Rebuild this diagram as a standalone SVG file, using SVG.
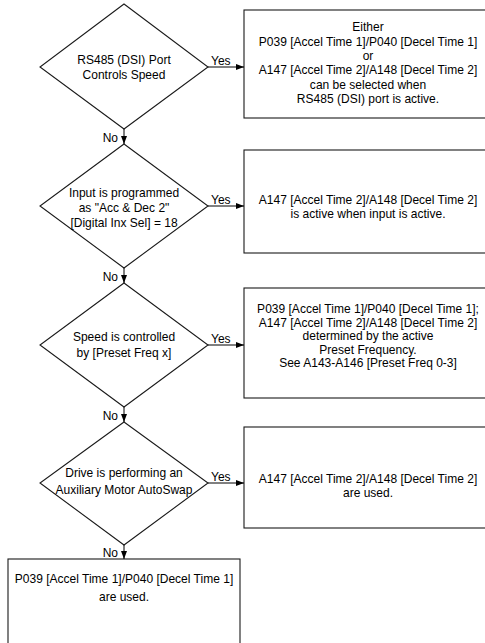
<svg xmlns="http://www.w3.org/2000/svg" width="485" height="643" viewBox="0 0 485 643">
<defs>
<marker id="ah" viewBox="0 0 8 6" refX="8" refY="3" markerWidth="8" markerHeight="6" markerUnits="userSpaceOnUse" orient="auto">
<path d="M0,0 L8,3 L0,6 z" fill="#000"/>
</marker>
<style>
.shape{fill:#fff;stroke:#1a1a1a;stroke-width:1.1}
.t{font-family:"Liberation Sans",Arial,sans-serif;font-size:13px;fill:#000;text-anchor:middle}
.lbl{font-family:"Liberation Sans",Arial,sans-serif;font-size:13px;fill:#000}
.c{fill:none;stroke:#000;stroke-width:1;marker-end:url(#ah)}
</style>
</defs>
<rect width="485" height="643" fill="#fff"/>

<g id="d1">
<polygon class="shape" points="124,4 208,67 124,129 40,67"/>
<g transform="translate(124,0) scale(0.925,1)">
<text class="t" x="0" y="64">RS485 (DSI) Port</text>
<text class="t" x="0" y="79">Controls Speed</text>
</g>
</g>
<g id="b1">
<rect class="shape" x="244" y="10" width="250" height="108"/>
<g transform="translate(368,0) scale(0.925,1)">
<text class="t" x="0" y="31.5">Either</text>
<text class="t" x="0" y="45.8">P039 [Accel Time 1]/P040 [Decel Time 1]</text>
<text class="t" x="0" y="60">or</text>
<text class="t" x="0" y="74.3">A147 [Accel Time 2]/A148 [Decel Time 2]</text>
<text class="t" x="0" y="88.6">can be selected when</text>
<text class="t" x="0" y="103">RS485 (DSI) port is active.</text>
</g>
</g>

<g id="d2">
<polygon class="shape" points="124,144 208,206 124,268 40,206"/>
<g transform="translate(124,0) scale(0.925,1)">
<text class="t" x="0" y="197">Input is programmed</text>
<text class="t" x="0" y="212">as "Acc &amp; Dec 2"</text>
<text class="t" x="0" y="227.5">[Digital Inx Sel] = 18</text>
</g>
</g>
<g id="b2">
<rect class="shape" x="244" y="150" width="250" height="103"/>
<g transform="translate(368,0) scale(0.925,1)">
<text class="t" x="0" y="204">A147 [Accel Time 2]/A148 [Decel Time 2]</text>
<text class="t" x="0" y="218">is active when input is active.</text>
</g>
</g>

<g id="d3">
<polygon class="shape" points="124,283 208,345 124,407 40,345"/>
<g transform="translate(124,0) scale(0.925,1)">
<text class="t" x="0" y="341">Speed is controlled</text>
<text class="t" x="0" y="357">by [Preset Freq x]</text>
</g>
</g>
<g id="b3">
<rect class="shape" x="244" y="288" width="250" height="110"/>
<g transform="translate(368,0) scale(0.925,1)">
<text class="t" x="0" y="313">P039 [Accel Time 1]/P040 [Decel Time 1];</text>
<text class="t" x="0" y="326.6">A147 [Accel Time 2]/A148 [Decel Time 2]</text>
<text class="t" x="0" y="340.2">determined by the active</text>
<text class="t" x="0" y="353.8">Preset Frequency.</text>
<text class="t" x="0" y="367.4">See A143-A146 [Preset Freq 0-3]</text>
</g>
</g>

<g id="d4">
<polygon class="shape" points="124,422 208,483 124,545 40,483"/>
<g transform="translate(124,0) scale(0.925,1)">
<text class="t" x="0" y="477">Drive is performing an</text>
<text class="t" x="0" y="494">Auxiliary Motor AutoSwap</text>
</g>
</g>
<g id="b4">
<rect class="shape" x="244" y="427" width="250" height="101"/>
<g transform="translate(368,0) scale(0.925,1)">
<text class="t" x="0" y="483">A147 [Accel Time 2]/A148 [Decel Time 2]</text>
<text class="t" x="0" y="497">are used.</text>
</g>
</g>

<g id="b5">
<rect class="shape" x="8" y="559" width="232" height="100"/>
<g transform="translate(124,0) scale(0.925,1)">
<text class="t" x="0" y="583">P039 [Accel Time 1]/P040 [Decel Time 1]</text>
<text class="t" x="0" y="601">are used.</text>
</g>
</g>

<g id="connectors">
<line class="c" x1="208" y1="67" x2="244" y2="67"/>
<line class="c" x1="208" y1="206" x2="244" y2="206"/>
<line class="c" x1="208" y1="345" x2="244" y2="345"/>
<line class="c" x1="208" y1="483" x2="244" y2="483"/>
<line class="c" x1="124" y1="129" x2="124" y2="144"/>
<line class="c" x1="124" y1="268" x2="124" y2="283"/>
<line class="c" x1="124" y1="407" x2="124" y2="422"/>
<line class="c" x1="124" y1="545" x2="124" y2="559"/>
<g transform="translate(211,0) scale(0.925,1)">
<text class="lbl" x="0" y="65">Yes</text>
<text class="lbl" x="0" y="204">Yes</text>
<text class="lbl" x="0" y="343">Yes</text>
<text class="lbl" x="0" y="481">Yes</text>
</g>
<g transform="translate(118,0) scale(0.925,1)">
<text class="lbl" x="0" y="142" text-anchor="end">No</text>
<text class="lbl" x="0" y="281" text-anchor="end">No</text>
<text class="lbl" x="0" y="420" text-anchor="end">No</text>
<text class="lbl" x="0" y="557" text-anchor="end">No</text>
</g>
</g>
</svg>
